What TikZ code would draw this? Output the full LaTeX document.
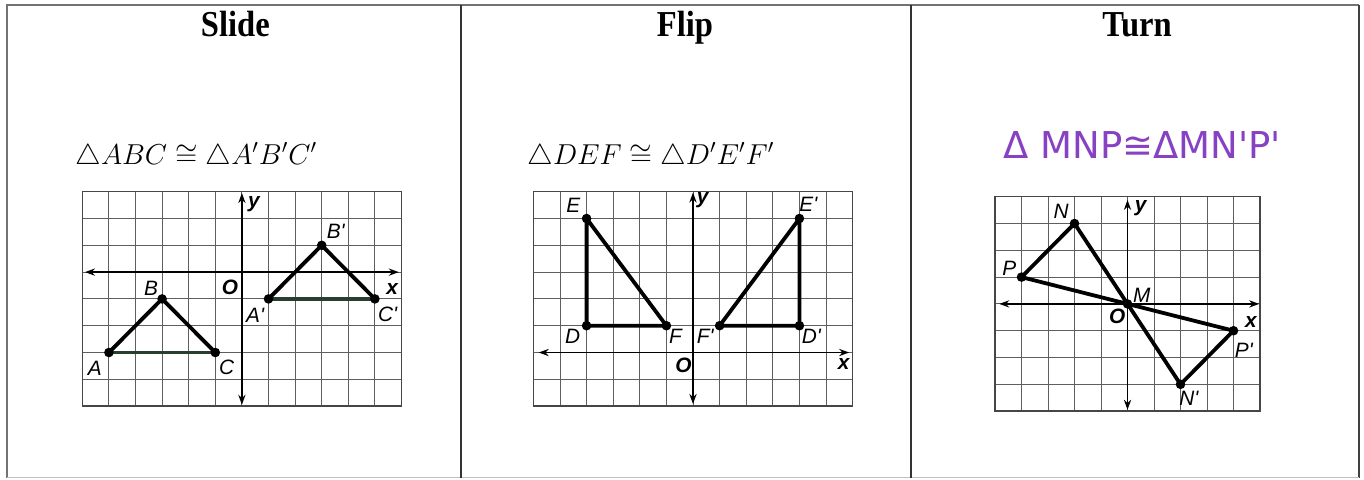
\documentclass[tikz,border=0pt]{standalone}
\usepackage{fontspec}
\setmainfont{Liberation Serif}
\newfontfamily\labfont{Liberation Sans}
\newfontfamily\handfont{DejaVu Sans}
\usetikzlibrary{arrows.meta}
\definecolor{gridc}{RGB}{95,95,95}
\definecolor{framec}{RGB}{70,70,70}
\definecolor{hand}{RGB}{135,65,195}
\definecolor{segc}{RGB}{40,62,46}
\begin{document}
\begin{tikzpicture}[x=0.5pt,y=-0.5pt,
  gridl/.style={draw=gridc, line width=0.5pt},
  gridframe/.style={draw=framec, line width=0.7pt},
  axis/.style={line width=0.95pt, {Stealth[length=5pt,width=3.6pt]}-{Stealth[length=5pt,width=3.6pt]}},
  tri/.style={line width=1.9pt, line join=round, line cap=round},
  dot/.style={circle, fill=black, inner sep=0pt, minimum size=4.8pt},
  lbl/.style={font=\labfont\itshape\fontsize{10.4}{12}\selectfont, inner sep=0pt},
  axl/.style={font=\labfont\bfseries\itshape\fontsize{10.4}{12}\selectfont, inner sep=0pt},
  head/.style={font=\bfseries\fontsize{16.3}{18}\selectfont, anchor=base, inner sep=0pt},
  formula/.style={font=\fontsize{14.5}{17}\selectfont, anchor=base west, inner sep=0pt},
  handtext/.style={font=\handfont\fontsize{18.5}{20}\selectfont, text=hand, anchor=base west, inner sep=0pt},
  tablerule/.style={draw=framec, line width=1pt}
]
\useasboundingbox (0,0) rectangle (1364,479);

% table
\draw[tablerule, draw=black!55] (6.5,477.5) -- (6.5,5) -- (1359,5);
\draw[tablerule, draw=black!75] (1359,5) -- (1359,477.5);
\draw[draw=black!25, line width=0.6pt] (6.5,477.5) -- (1359,477.5);
\draw[tablerule, draw=black!80] (460.5,5) -- (460.5,477.5);
\draw[tablerule, draw=black!80] (911,5) -- (911,477.5);

% headings
\node[head] (hslide) at (235.3,36) {\scalebox{1}[1.12]{Slide}};
\node[head] (hflip) at (685,36) {\scalebox{1}[1.12]{Flip}};
\node[head] (hturn) at (1137,36) {\scalebox{1}[1.12]{Turn}};

% statements
\node[formula] (f1) at (75,164) {$\triangle ABC \cong \triangle A'B'C'$};
\node[formula] (f2) at (527,164) {$\triangle DEF \cong \triangle D'E'F'$};
\node[handtext] (f3) at (1003,158) {Δ MNP≅ΔMN'P'};

% ---------- Slide ----------
\begin{scope}[shift={(241.9,272.1)}, x=13.3pt, y=13.4pt]
  \draw[gridl, step={(1,1)}] (-6,-5) grid (6,3);
  \draw[gridframe] (-6,-5) rectangle (6,3);
  \coordinate (x1l) at (-5.9,0); \coordinate (x1r) at (5.9,0);
  \coordinate (y1t) at (0,2.95); \coordinate (y1b) at (0,-4.95);
  \coordinate (O1) at (0,0);
  \draw[axis] (x1l) -- (x1r);
  \draw[axis] (y1b) -- (y1t);
  \coordinate (A) at (-5,-3); \coordinate (B) at (-3,-1); \coordinate (C) at (-1,-3);
  \coordinate (A1) at (1,-1); \coordinate (B1) at (3,1); \coordinate (C1) at (5,-1);
  \draw[tri] (A) -- (B) -- (C);
  \draw[tri, draw=segc] (C) -- (A);
  \draw[tri] (A1) -- (B1) -- (C1);
  \draw[tri, draw=segc] (C1) -- (A1);
  \foreach \p in {A,B,C,A1,B1,C1} \node[dot] (d\p) at (\p) {};
  \node[lbl, xshift=-7pt, yshift=-8pt] (lA) at (A) {A};
  \node[lbl, xshift=-5.5pt, yshift=5.5pt] (lB) at (B) {B};
  \node[lbl, xshift=5.7pt, yshift=-7.5pt] (lC) at (C) {C};
  \node[lbl, xshift=-6.7pt, yshift=-8.3pt] (lA1) at (A1) {A'};
  \node[lbl, xshift=7pt, yshift=7pt] (lB1) at (B1) {B'};
  \node[lbl, xshift=6.3pt, yshift=-7.5pt] (lC1) at (C1) {C'};
  \node[axl, xshift=-6pt, yshift=-7.5pt] (lO1) at (O1) {O};
  \node[axl, xshift=6pt, yshift=-5.6pt] (ly1) at (y1t) {y};
  \node[axl, xshift=-3.3pt, yshift=-8.3pt] (lx1) at (x1r) {x};
\end{scope}

% ---------- Flip ----------
\begin{scope}[shift={(693,352.5)}, x=13.3pt, y=13.4pt]
  \draw[gridl, step={(1,1)}] (-6,-2) grid (6,6);
  \draw[gridframe] (-6,-2) rectangle (6,6);
  \coordinate (x2l) at (-5.8,0); \coordinate (x2r) at (5.87,0);
  \coordinate (y2t) at (0,5.97); \coordinate (y2b) at (0,-1.92);
  \coordinate (O2) at (0,0);
  \draw[axis] (x2l) -- (x2r);
  \draw[axis] (y2b) -- (y2t);
  \coordinate (D) at (-4,1); \coordinate (E) at (-4,5); \coordinate (F) at (-1,1);
  \coordinate (D1) at (4,1); \coordinate (E1) at (4,5); \coordinate (F1) at (1,1);
  \draw[tri] (D) -- (E) -- (F) -- cycle;
  \draw[tri] (D1) -- (E1) -- (F1) -- cycle;
  \foreach \p in {D,E,F,D1,E1,F1} \node[dot] (d\p) at (\p) {};
  \node[lbl, xshift=-6.7pt, yshift=6.7pt] (lE) at (E) {E};
  \node[lbl, xshift=-7pt, yshift=-5.5pt] (lD) at (D) {D};
  \node[lbl, xshift=4.5pt, yshift=-5.5pt] (lF) at (F) {F};
  \node[lbl, xshift=-7.2pt, yshift=-5.5pt] (lF1) at (F1) {F'};
  \node[lbl, xshift=6pt, yshift=-5.5pt] (lD1) at (D1) {D'};
  \node[lbl, xshift=4.5pt, yshift=7.2pt] (lE1) at (E1) {E'};
  \node[axl, xshift=-4.8pt, yshift=-6.2pt] (lO2) at (O2) {O};
  \node[axl, xshift=4.8pt, yshift=-4pt] (ly2) at (y2t) {y};
  \node[axl, xshift=-2.8pt, yshift=-5.9pt] (lx2) at (x2r) {x};
\end{scope}

% ---------- Turn ----------
\begin{scope}[shift={(1127.5,303.9)}, x=13.25pt, y=13.4pt]
  \draw[gridl, step={(1,1)}] (-5,-4) grid (5,4);
  \draw[gridframe] (-5,-4) rectangle (5,4);
  \coordinate (x3l) at (-4.84,0); \coordinate (x3r) at (4.97,0);
  \coordinate (y3t) at (0,3.88); \coordinate (y3b) at (0,-3.95);
  \draw[axis] (x3l) -- (x3r);
  \draw[axis] (y3b) -- (y3t);
  \coordinate (M) at (0,0);
  \coordinate (N) at (-2,3); \coordinate (P) at (-4,1);
  \coordinate (N1) at (2,-3); \coordinate (P1) at (4,-1);
  \draw[tri] (M) -- (N) -- (P) -- cycle;
  \draw[tri] (M) -- (N1) -- (P1) -- cycle;
  \foreach \p in {M,N,P,N1,P1} \node[dot] (d\p) at (\p) {};
  \node[lbl, xshift=-6.7pt, yshift=5.9pt] (lN) at (N) {N};
  \node[lbl, xshift=-6.1pt, yshift=4.4pt] (lP) at (P) {P};
  \node[lbl, xshift=7.1pt, yshift=4.5pt] (lM) at (M) {M};
  \node[axl, xshift=-5.2pt, yshift=-6.4pt] (lO3) at (M) {O};
  \node[lbl, xshift=5.2pt, yshift=-9.6pt] (lP1) at (P1) {P'};
  \node[lbl, xshift=4.2pt, yshift=-7pt] (lN1) at (N1) {N'};
  \node[axl, xshift=6.6pt, yshift=-4.2pt] (ly3) at (y3t) {y};
  \node[axl, xshift=-4.2pt, yshift=-8.9pt] (lx3) at (x3r) {x};
\end{scope}
\end{tikzpicture}
\end{document}
